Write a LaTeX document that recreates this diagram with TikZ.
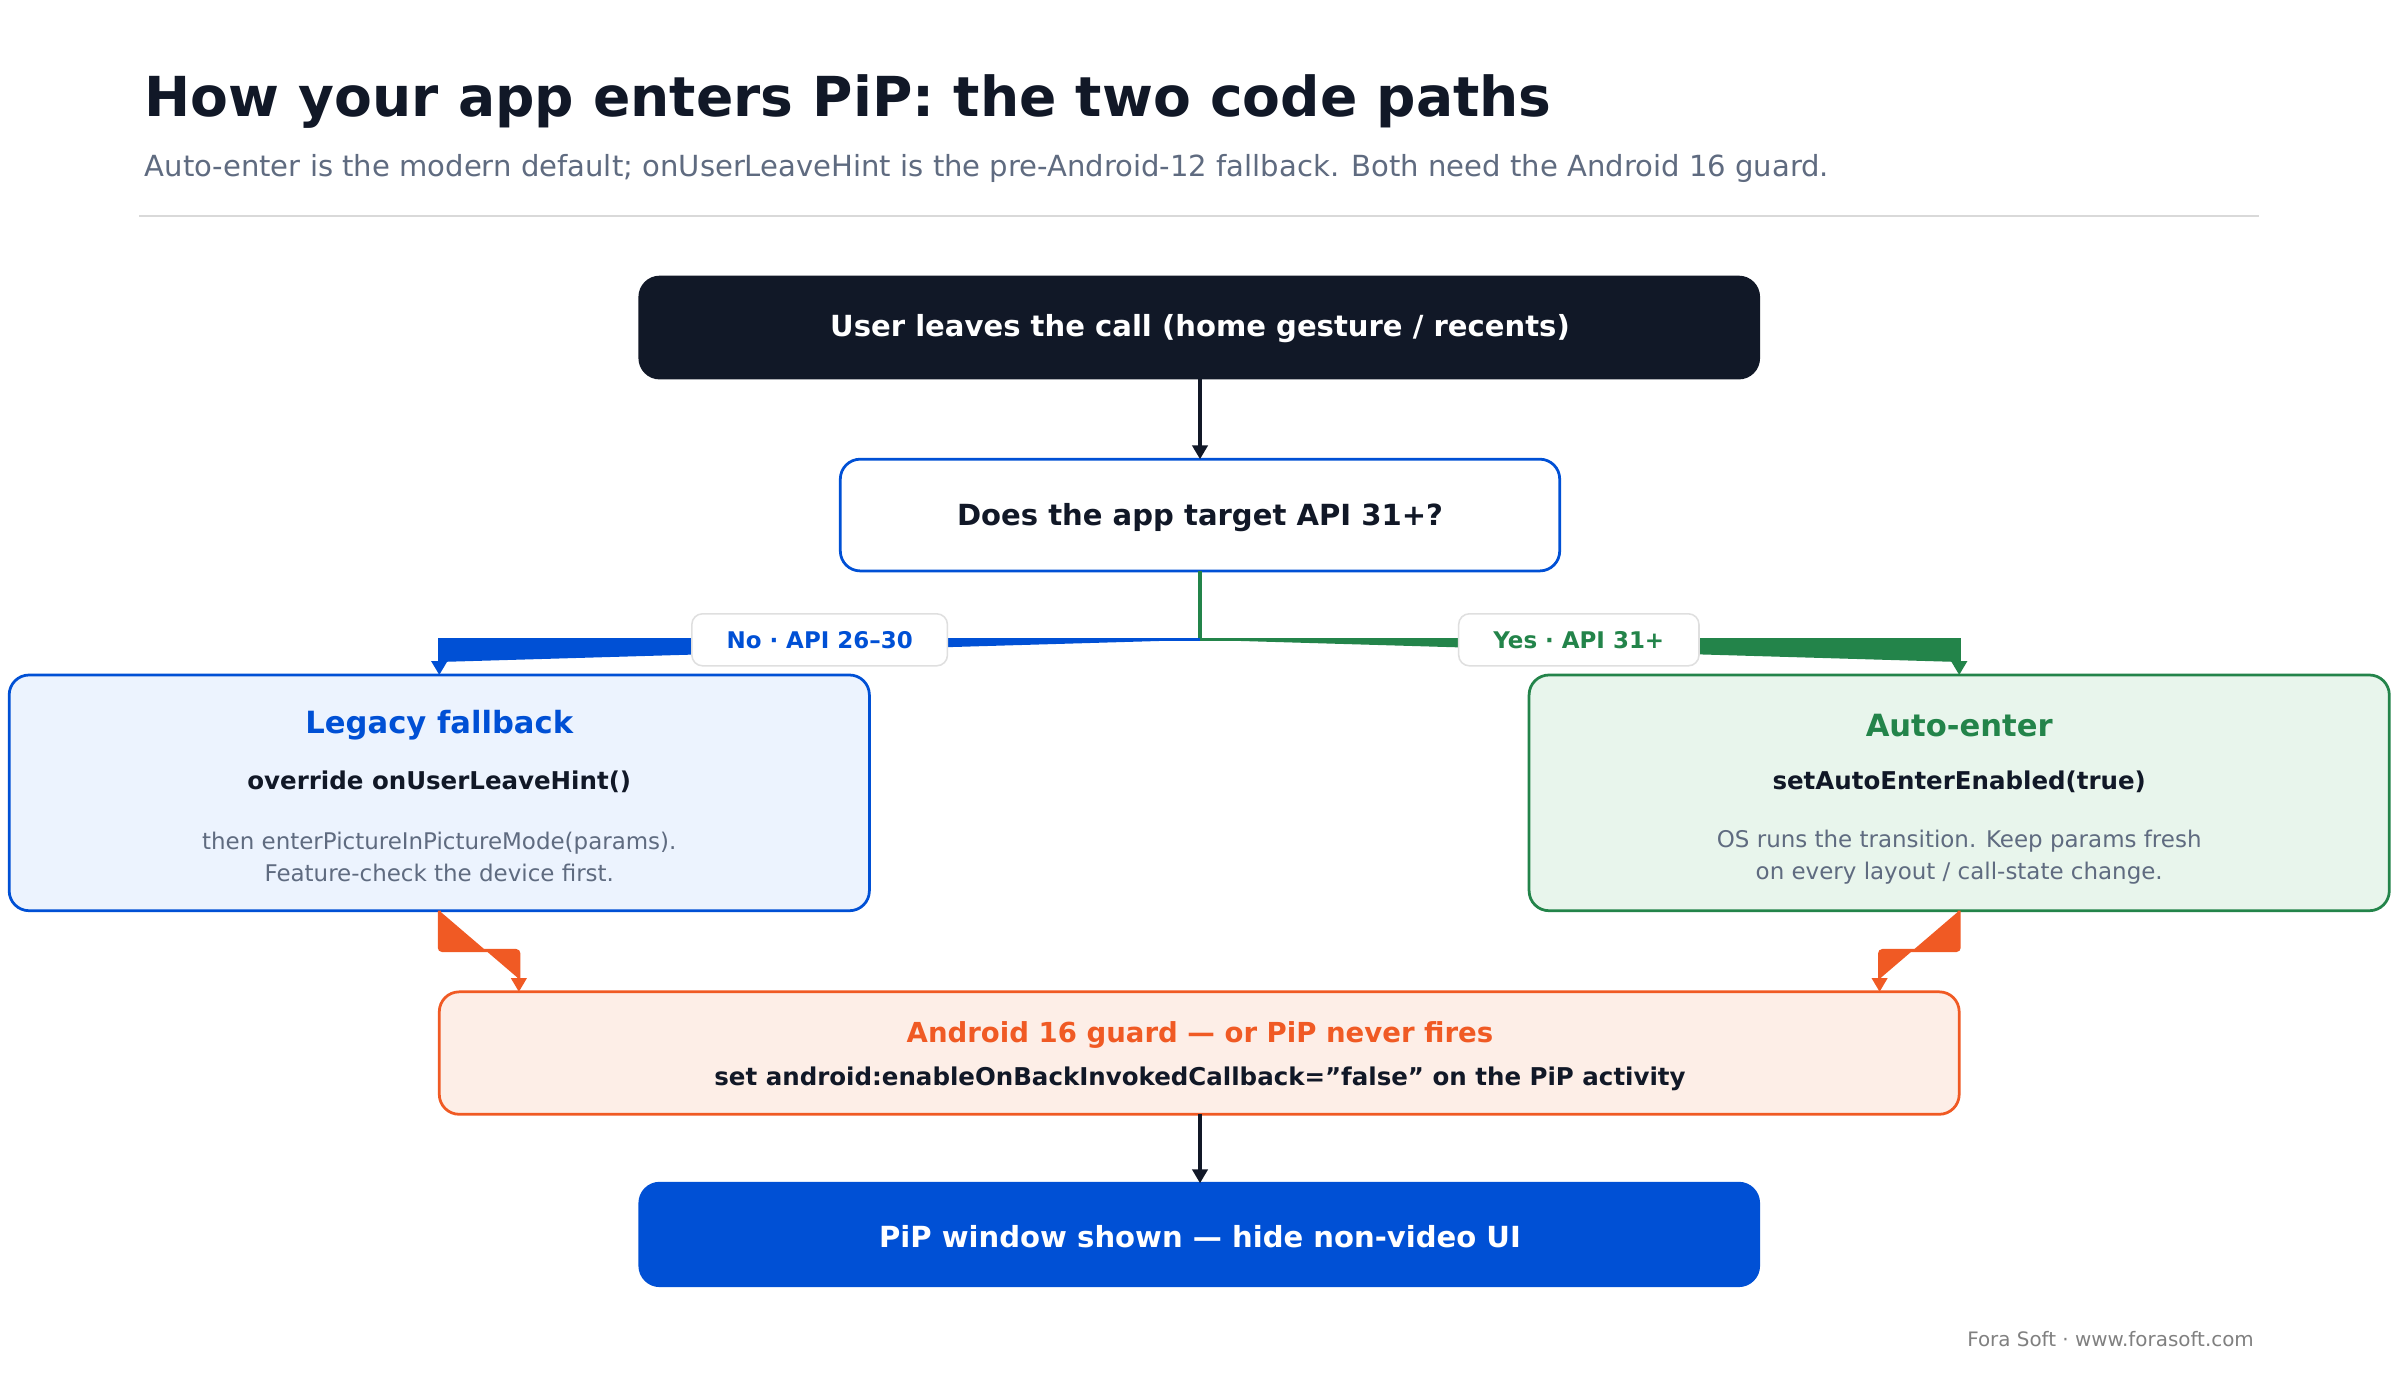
\documentclass[tikz,border=0pt]{standalone}
\usepackage{fontspec}
\setmainfont{DejaVu Sans}
\usetikzlibrary{arrows.meta}
\definecolor{dark}{HTML}{111827}
\definecolor{blu}{HTML}{0050D5}
\definecolor{grn}{HTML}{23844A}
\definecolor{org}{HTML}{F05A24}
\definecolor{gry}{HTML}{5F6B80}
\definecolor{lblue}{HTML}{ECF3FE}
\definecolor{lgrn}{HTML}{E8F5EC}
\definecolor{lorg}{HTML}{FDEEE7}
\newcommand{\fs}[1]{\fontsize{#1}{#1}\selectfont}
\begin{document}
\begin{tikzpicture}[x=1pt,y=-1pt,
  box/.style={rounded corners=13pt,line width=1.8pt},
  arr/.style={line width=2pt,-{Triangle[length=9pt,width=10pt]}},
  ln/.style={line width=2pt},
  pill/.style={draw=gray!25,fill=white,rounded corners=7pt,line width=1pt,minimum height=34pt,font=\fs{15}\bfseries}]
\useasboundingbox (0,0) rectangle (1568,904);
\fill[white] (0,0) rectangle (1568,904);
\node[anchor=base west,text=dark,font=\fs{36}\bfseries] (title) at (91,76) {How your app enters PiP: the two code paths};
\node[anchor=base west,text=gry,font=\fs{19}] (sub) at (91,115) {Auto-enter is the modern default; onUserLeaveHint is the pre-Android-12 fallback. Both need the Android 16 guard.};
\draw[gray!30,line width=1pt] (91,141) -- (1476,141);
% boxes
\draw[box,fill=dark,draw=dark] (418,181) rectangle (1149,247);
\node[text=white,font=\fs{19}\bfseries] (b1) at (784,215) {User leaves the call (home gesture / recents)};
\draw[box,fill=white,draw=blu] (549,300) rectangle (1019,373);
\node[text=dark,font=\fs{19}\bfseries] (b2) at (784,338) {Does the app target API 31+?};
\draw[box,fill=lblue,draw=blu] (6,441) rectangle (568,595);
\node[text=blu,font=\fs{20}\bfseries] (lt) at (287,474) {Legacy fallback};
\node[text=dark,font=\fs{16}\bfseries] (l2) at (287,511) {override onUserLeaveHint()};
\node[text=gry,font=\fs{15},align=center] (l3) at (287,560) {then enterPictureInPictureMode(params).\\[6pt]Feature-check the device first.};
\draw[box,fill=lgrn,draw=grn] (999,441) rectangle (1561,595);
\node[text=grn,font=\fs{20}\bfseries] (rt) at (1280,474) {Auto-enter};
\node[text=dark,font=\fs{16}\bfseries] (r2) at (1280,511) {setAutoEnterEnabled(true)};
\node[text=gry,font=\fs{15},align=center] (r3) at (1280,560) {OS runs the transition. Keep params fresh\\[6pt]on every layout / call-state change.};
\draw[box,fill=lorg,draw=org] (287,648) rectangle (1280,728);
\node[text=org,font=\fs{18}\bfseries] (o1) at (784,676) {Android 16 guard — or PiP never fires};
\node[text=dark,font=\fs{16}\bfseries] (o2) at (784,705) {set android:enableOnBackInvokedCallback="false" on the PiP activity};
\draw[box,fill=blu,draw=blu] (418,773) rectangle (1149,840);
\node[text=white,font=\fs{19}\bfseries] (b5) at (784,808) {PiP window shown — hide non-video UI};
% connectors
\coordinate (c1) at (784,247); \coordinate (c2) at (784,300);
\draw[arr,draw=dark,fill=dark] (c1) -- (c2);
\coordinate (s) at (784,373); \coordinate (j) at (784,418);
\coordinate (la) at (287,441); \coordinate (ra) at (1280,441);
\draw[ln,grn] (s) -- (j);
\draw[arr,draw=blu,fill=blu] (j) -| (la);
\draw[arr,draw=grn,fill=grn] (j) -| (ra);
\node[pill,text=blu,minimum width=167pt] (no) at (535.5,418) {No · API 26–30};
\node[pill,text=grn,minimum width=157pt] (yes) at (1031.5,418) {Yes · API 31+};
\coordinate (lb) at (287,595); \coordinate (lo) at (339,648);
\coordinate (rb) at (1280,595); \coordinate (ro) at (1228,648);
\draw[arr,draw=org,fill=org,rounded corners=2pt] (lb) -- (287,621) -| (lo);
\draw[arr,draw=org,fill=org,rounded corners=2pt] (rb) -- (1280,621) -| (ro);
\coordinate (ob) at (784,728); \coordinate (ft) at (784,773);
\draw[arr,draw=dark,fill=dark] (ob) -- (ft);
\node[anchor=base east,text=gray,font=\fs{13}] (foot) at (1476,880) {Fora Soft · www.forasoft.com};
\end{tikzpicture}
\end{document}
